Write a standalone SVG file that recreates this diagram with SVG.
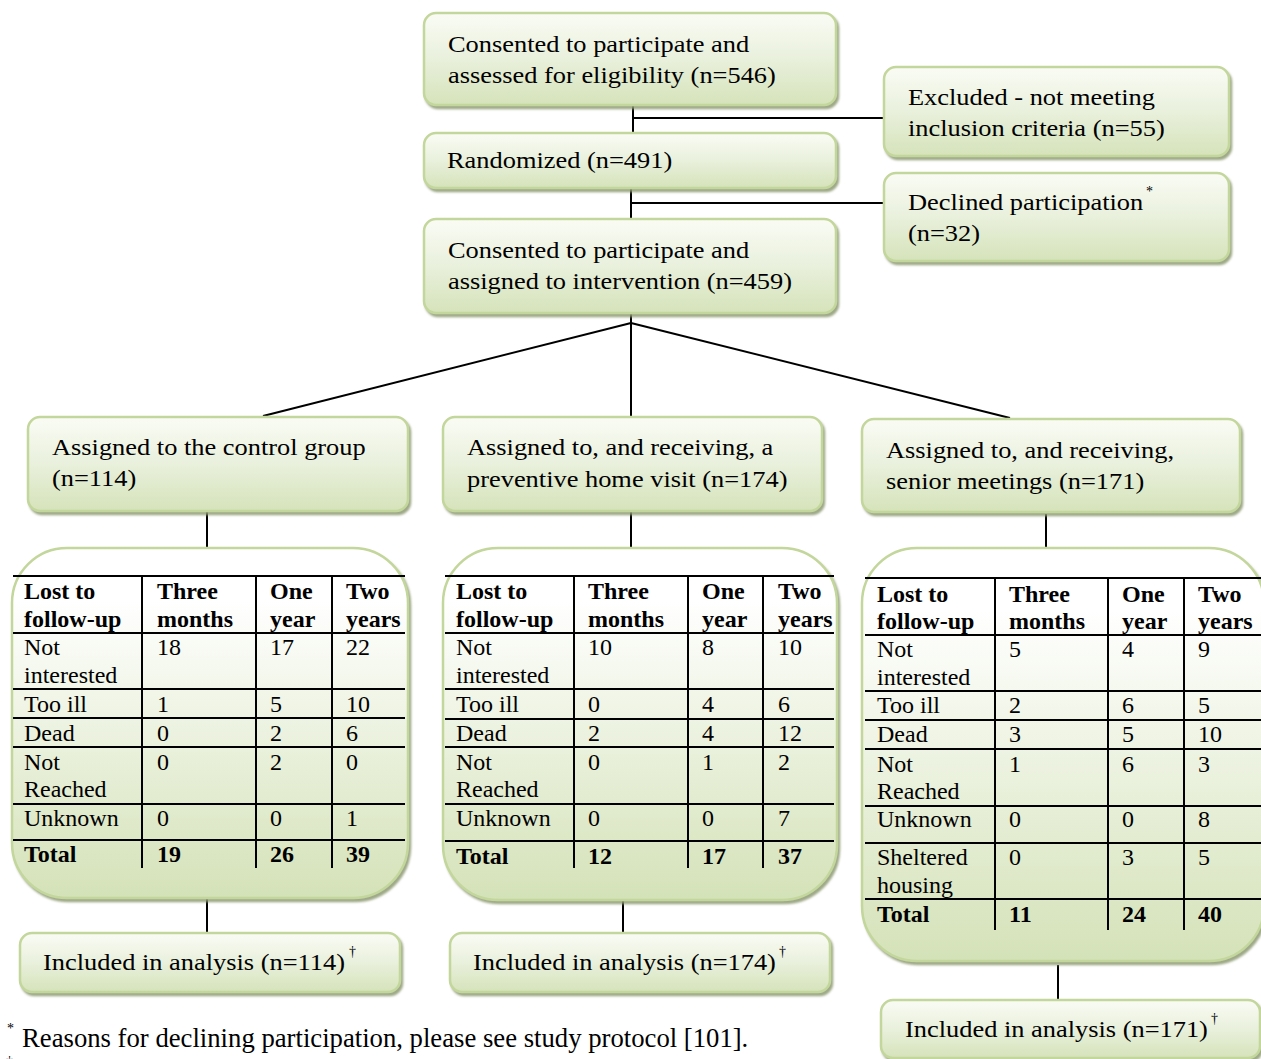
<svg xmlns="http://www.w3.org/2000/svg" width="1261" height="1059" viewBox="0 0 1261 1059">
  <defs>
    <linearGradient id="boxFill" x1="0" y1="0" x2="0" y2="1">
      <stop offset="0" stop-color="#fafcf5"/>
      <stop offset="0.5" stop-color="#e9f0dc"/>
      <stop offset="1" stop-color="#d5e3ba"/>
    </linearGradient>
    <linearGradient id="tableFill" x1="0" y1="0" x2="0" y2="1">
      <stop offset="0" stop-color="#ffffff"/>
      <stop offset="0.15" stop-color="#ffffff"/>
      <stop offset="1" stop-color="#d4e2b8"/>
    </linearGradient>
    <filter id="shadow" x="-5%" y="-10%" width="115%" height="130%">
      <feDropShadow dx="2" dy="3" stdDeviation="1.2" flood-color="#8d9a72" flood-opacity="0.85"/>
    </filter>
  </defs>
  <style>
    .box { fill: url(#boxFill); stroke: #c3d69b; stroke-width: 2.5; filter: url(#shadow); }
    .tbox { fill: url(#tableFill); stroke: #c3d69b; stroke-width: 2.5; filter: url(#shadow); }
    .lbl { font-family: "Liberation Serif", "Times New Roman", serif; font-size: 24px; fill: #000; }
    .sup { font-family: "Liberation Serif", "Times New Roman", serif; font-size: 14px; fill: #000; }
    .cell { font-family: "Liberation Serif", "Times New Roman", serif; font-size: 24px; fill: #000; }
    .hd { font-weight: bold; }
    .grid line { stroke: #000; stroke-width: 2; }
    .conn line { stroke: #000; stroke-width: 2; fill: none; }
    .note { font-family: "Liberation Serif", "Times New Roman", serif; font-size: 26.7px; fill: #000; }
  </style>

  <rect width="1261" height="1059" fill="#ffffff"/>

  <!-- connectors -->
  <g id="connectors" class="conn">
    <line x1="633" y1="105" x2="633" y2="133"/>
    <line x1="633" y1="118" x2="884" y2="118"/>
    <line x1="631" y1="188" x2="631" y2="219"/>
    <line x1="631" y1="203" x2="884" y2="203"/>
    <line x1="631" y1="313" x2="631" y2="417"/>
    <line x1="631" y1="323" x2="263" y2="416"/>
    <line x1="631" y1="323" x2="1010" y2="418"/>
    <line x1="207" y1="512" x2="207" y2="548"/>
    <line x1="631" y1="512" x2="631" y2="548"/>
    <line x1="1046" y1="514" x2="1046" y2="548"/>
    <line x1="207" y1="898" x2="207" y2="932"/>
    <line x1="623" y1="900" x2="623" y2="933"/>
    <line x1="1058" y1="965" x2="1058" y2="1000"/>
  </g>

  <!-- enrolment -->
  <g id="assessed">
    <rect class="box" x="424" y="13" width="412" height="92" rx="12"/>
    <text class="lbl" transform="translate(448,52) scale(1.1,1)"><tspan x="0" y="0">Consented to participate and</tspan><tspan x="0" y="31">assessed for eligibility (n=546)</tspan></text>
  </g>

  <g id="excluded">
    <rect class="box" x="884" y="67" width="345" height="89" rx="12"/>
    <text class="lbl" transform="translate(908,105) scale(1.1,1)"><tspan x="0" y="0">Excluded - not meeting</tspan><tspan x="0" y="31">inclusion criteria (n=55)</tspan></text>
  </g>

  <g id="randomized">
    <rect class="box" x="424" y="133" width="412" height="55" rx="12"/>
    <text class="lbl" transform="translate(447,168) scale(1.1,1)">Randomized (n=491)</text>
  </g>

  <g id="declined">
    <rect class="box" x="884" y="173" width="345" height="88" rx="12"/>
    <text class="lbl" transform="translate(908,210) scale(1.1,1)"><tspan x="0" y="0">Declined participation</tspan><tspan x="0" y="31">(n=32)</tspan></text>
    <text class="sup" x="1146" y="196">*</text>
  </g>

  <g id="assigned">
    <rect class="box" x="424" y="219" width="412" height="94" rx="12"/>
    <text class="lbl" transform="translate(448,258) scale(1.1,1)"><tspan x="0" y="0">Consented to participate and</tspan><tspan x="0" y="31">assigned to intervention (n=459)</tspan></text>
  </g>

  <!-- allocation -->
  <g id="control">
    <rect class="box" x="28" y="417" width="380" height="94" rx="12"/>
    <text class="lbl" transform="translate(52,455) scale(1.1,1)"><tspan x="0" y="0">Assigned to the control group</tspan><tspan x="0" y="31">(n=114)</tspan></text>
  </g>

  <g id="homevisit">
    <rect class="box" x="443" y="417" width="379" height="94" rx="12"/>
    <text class="lbl" transform="translate(467,455) scale(1.1,1)"><tspan x="0" y="0">Assigned to, and receiving, a</tspan><tspan x="0" y="32">preventive home visit (n=174)</tspan></text>
  </g>

  <g id="meetings">
    <rect class="box" x="862" y="419" width="378" height="93" rx="12"/>
    <text class="lbl" transform="translate(886,458) scale(1.1,1)"><tspan x="0" y="0">Assigned to, and receiving,</tspan><tspan x="0" y="31">senior meetings (n=171)</tspan></text>
  </g>

  <!-- follow-up losses, control group -->
  <g id="lossControl">
    <rect class="tbox" x="12" y="548" width="396" height="350" rx="55"/>
    <g class="grid">
      <line x1="13" y1="576" x2="405" y2="576"/>
      <line x1="13" y1="633" x2="405" y2="633"/>
      <line x1="13" y1="689" x2="405" y2="689"/>
      <line x1="13" y1="718" x2="405" y2="718"/>
      <line x1="13" y1="747" x2="405" y2="747"/>
      <line x1="13" y1="804" x2="405" y2="804"/>
      <line x1="13" y1="840" x2="405" y2="840"/>
      <line x1="142" y1="576" x2="142" y2="868"/>
      <line x1="256" y1="576" x2="256" y2="868"/>
      <line x1="332" y1="576" x2="332" y2="868"/>
    </g>
    <g class="cell">
      <text class="hd" x="24" y="599">Lost to</text>
      <text class="hd" x="24" y="627">follow-up</text>
      <text class="hd" x="157" y="599">Three</text>
      <text class="hd" x="157" y="627">months</text>
      <text class="hd" x="270" y="599">One</text>
      <text class="hd" x="270" y="627">year</text>
      <text class="hd" x="346" y="599">Two</text>
      <text class="hd" x="346" y="627">years</text>
      <text x="24" y="655">Not</text>
      <text x="24" y="683">interested</text>
      <text x="157" y="655">18</text>
      <text x="270" y="655">17</text>
      <text x="346" y="655">22</text>
      <text x="24" y="712">Too ill</text>
      <text x="157" y="712">1</text>
      <text x="270" y="712">5</text>
      <text x="346" y="712">10</text>
      <text x="24" y="741">Dead</text>
      <text x="157" y="741">0</text>
      <text x="270" y="741">2</text>
      <text x="346" y="741">6</text>
      <text x="24" y="770">Not</text>
      <text x="24" y="797">Reached</text>
      <text x="157" y="770">0</text>
      <text x="270" y="770">2</text>
      <text x="346" y="770">0</text>
      <text x="24" y="826">Unknown</text>
      <text x="157" y="826">0</text>
      <text x="270" y="826">0</text>
      <text x="346" y="826">1</text>
      <text class="hd" x="24" y="862">Total</text>
      <text class="hd" x="157" y="862">19</text>
      <text class="hd" x="270" y="862">26</text>
      <text class="hd" x="346" y="862">39</text>
    </g>
  </g>

  <!-- follow-up losses, home visit -->
  <g id="lossHomeVisit">
    <rect class="tbox" x="443" y="548" width="394" height="352" rx="55"/>
    <g class="grid">
      <line x1="445" y1="576" x2="834" y2="576"/>
      <line x1="445" y1="633" x2="834" y2="633"/>
      <line x1="445" y1="689" x2="834" y2="689"/>
      <line x1="445" y1="719" x2="834" y2="719"/>
      <line x1="445" y1="747" x2="834" y2="747"/>
      <line x1="445" y1="804" x2="834" y2="804"/>
      <line x1="445" y1="841" x2="834" y2="841"/>
      <line x1="574" y1="576" x2="574" y2="868"/>
      <line x1="688" y1="576" x2="688" y2="868"/>
      <line x1="763" y1="576" x2="763" y2="868"/>
    </g>
    <g class="cell">
      <text class="hd" x="456" y="599">Lost to</text>
      <text class="hd" x="456" y="627">follow-up</text>
      <text class="hd" x="588" y="599">Three</text>
      <text class="hd" x="588" y="627">months</text>
      <text class="hd" x="702" y="599">One</text>
      <text class="hd" x="702" y="627">year</text>
      <text class="hd" x="778" y="599">Two</text>
      <text class="hd" x="778" y="627">years</text>
      <text x="456" y="655">Not</text>
      <text x="456" y="683">interested</text>
      <text x="588" y="655">10</text>
      <text x="702" y="655">8</text>
      <text x="778" y="655">10</text>
      <text x="456" y="712">Too ill</text>
      <text x="588" y="712">0</text>
      <text x="702" y="712">4</text>
      <text x="778" y="712">6</text>
      <text x="456" y="741">Dead</text>
      <text x="588" y="741">2</text>
      <text x="702" y="741">4</text>
      <text x="778" y="741">12</text>
      <text x="456" y="770">Not</text>
      <text x="456" y="797">Reached</text>
      <text x="588" y="770">0</text>
      <text x="702" y="770">1</text>
      <text x="778" y="770">2</text>
      <text x="456" y="826">Unknown</text>
      <text x="588" y="826">0</text>
      <text x="702" y="826">0</text>
      <text x="778" y="826">7</text>
      <text class="hd" x="456" y="864">Total</text>
      <text class="hd" x="588" y="864">12</text>
      <text class="hd" x="702" y="864">17</text>
      <text class="hd" x="778" y="864">37</text>
    </g>
  </g>

  <!-- follow-up losses, senior meetings -->
  <g id="lossMeetings">
    <rect class="tbox" x="862" y="548" width="402" height="413" rx="55"/>
    <g class="grid">
      <line x1="865" y1="578" x2="1261" y2="578"/>
      <line x1="865" y1="635" x2="1261" y2="635"/>
      <line x1="865" y1="691" x2="1261" y2="691"/>
      <line x1="865" y1="720" x2="1261" y2="720"/>
      <line x1="865" y1="749" x2="1261" y2="749"/>
      <line x1="865" y1="806" x2="1261" y2="806"/>
      <line x1="865" y1="843" x2="1261" y2="843"/>
      <line x1="865" y1="899" x2="1261" y2="899"/>
      <line x1="995" y1="578" x2="995" y2="930"/>
      <line x1="1108" y1="578" x2="1108" y2="930"/>
      <line x1="1184" y1="578" x2="1184" y2="930"/>
    </g>
    <g class="cell">
      <text class="hd" x="877" y="602">Lost to</text>
      <text class="hd" x="877" y="629">follow-up</text>
      <text class="hd" x="1009" y="602">Three</text>
      <text class="hd" x="1009" y="629">months</text>
      <text class="hd" x="1122" y="602">One</text>
      <text class="hd" x="1122" y="629">year</text>
      <text class="hd" x="1198" y="602">Two</text>
      <text class="hd" x="1198" y="629">years</text>
      <text x="877" y="657">Not</text>
      <text x="877" y="685">interested</text>
      <text x="1009" y="657">5</text>
      <text x="1122" y="657">4</text>
      <text x="1198" y="657">9</text>
      <text x="877" y="713">Too ill</text>
      <text x="1009" y="713">2</text>
      <text x="1122" y="713">6</text>
      <text x="1198" y="713">5</text>
      <text x="877" y="742">Dead</text>
      <text x="1009" y="742">3</text>
      <text x="1122" y="742">5</text>
      <text x="1198" y="742">10</text>
      <text x="877" y="772">Not</text>
      <text x="877" y="799">Reached</text>
      <text x="1009" y="772">1</text>
      <text x="1122" y="772">6</text>
      <text x="1198" y="772">3</text>
      <text x="877" y="827">Unknown</text>
      <text x="1009" y="827">0</text>
      <text x="1122" y="827">0</text>
      <text x="1198" y="827">8</text>
      <text x="877" y="865">Sheltered</text>
      <text x="877" y="893">housing</text>
      <text x="1009" y="865">0</text>
      <text x="1122" y="865">3</text>
      <text x="1198" y="865">5</text>
      <text class="hd" x="877" y="922">Total</text>
      <text class="hd" x="1009" y="922">11</text>
      <text class="hd" x="1122" y="922">24</text>
      <text class="hd" x="1198" y="922">40</text>
    </g>
  </g>

  <!-- analysis -->
  <g id="analysisControl">
    <rect class="box" x="20" y="933" width="380" height="59" rx="12"/>
    <text class="lbl" transform="translate(43,970) scale(1.1,1)">Included in analysis (n=114)</text>
    <text class="sup" x="349" y="956">†</text>
  </g>

  <g id="analysisHomeVisit">
    <rect class="box" x="450" y="933" width="380" height="59" rx="12"/>
    <text class="lbl" transform="translate(473,970) scale(1.1,1)">Included in analysis (n=174)</text>
    <text class="sup" x="779" y="956">†</text>
  </g>

  <g id="analysisMeetings">
    <rect class="box" x="881" y="1000" width="379" height="58" rx="12"/>
    <text class="lbl" transform="translate(905,1037) scale(1.1,1)">Included in analysis (n=171)</text>
    <text class="sup" x="1211" y="1023">†</text>
  </g>

  <!-- footnotes -->
  <g id="footnotes">
    <text class="sup" x="7" y="1033">*</text>
    <text class="note" x="22" y="1047">Reasons for declining participation, please see study protocol [101].</text>
    <text class="sup" x="6" y="1066">†</text>
  </g>
</svg>
